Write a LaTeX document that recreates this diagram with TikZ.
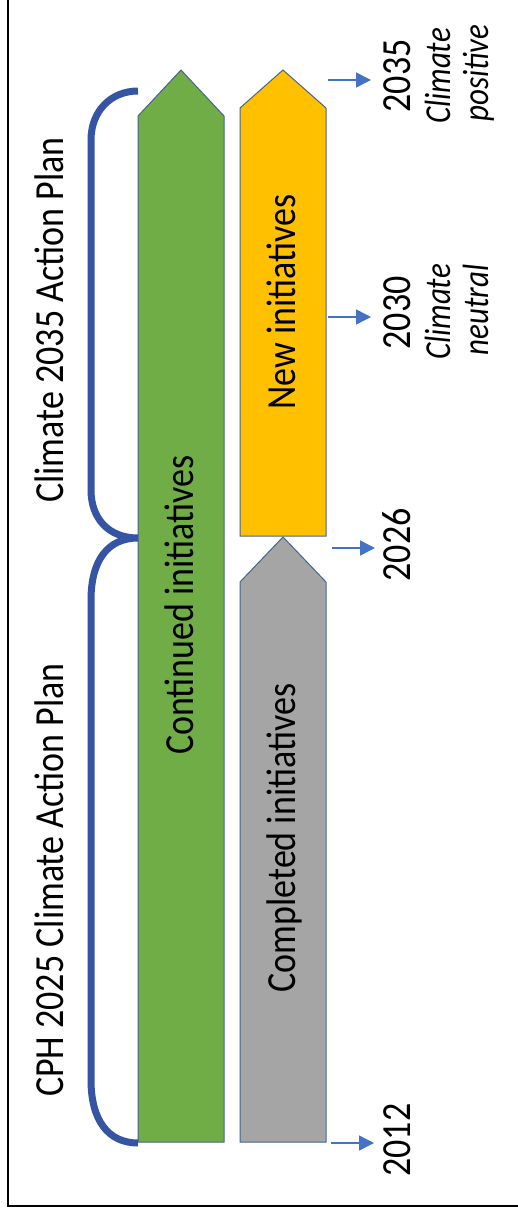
\documentclass[tikz,border=0pt]{standalone}
\usepackage{fontspec}
\setmainfont{Carlito}
\usetikzlibrary{arrows.meta}
\definecolor{bracecol}{RGB}{54,84,164}
\definecolor{tickcol}{RGB}{68,114,196}
\definecolor{outl}{RGB}{72,100,140}
\definecolor{greenf}{RGB}{112,173,71}
\definecolor{yellowf}{RGB}{255,192,0}
\definecolor{grayf}{RGB}{165,165,165}
\newcommand{\tallbig}[1]{\scalebox{1}[1.15]{#1}}
\newcommand{\tallsmall}[1]{\scalebox{1}[1.18]{#1}}
\tikzset{
  bigarrow/.style={draw=outl, line width=1pt, line join=miter},
  bracestyle/.style={draw=bracecol, line width=7pt},
  tickarrow/.style={draw=tickcol, line width=1.5pt, -{Triangle[length=15pt,width=15pt]}},
  bigtext/.style={rotate=90, anchor=base, inner sep=0pt, font=\fontsize{36}{40}\selectfont},
  smalltext/.style={rotate=90, anchor=base, inner sep=0pt, font=\fontsize{31}{36}\selectfont\itshape},
}
\begin{document}
\begin{tikzpicture}[x=1pt,y=-1pt]
\useasboundingbox (0,0) rectangle (517,1215);
% frame
\draw[line width=1.6pt] (8,-10) -- (8,1206) -- (530,1206);
% big arrows
\path[bigarrow, fill=greenf] (138,1142) -- (138,116) -- (181,70) -- (224,116) -- (224,1142) -- cycle;
\path[bigarrow, fill=yellowf] (240,536) -- (240,108) -- (283,70) -- (326,108) -- (326,536) -- cycle;
\path[bigarrow, fill=grayf] (240,1142) -- (240,582) -- (283,537) -- (326,582) -- (326,1142) -- cycle;
% brace
\path[bracestyle] (138,91) .. controls (111,91) and (91,111) .. (91,140) -- (91,490)
  .. controls (91,518) and (108,538) .. (138,538)
  .. controls (108,538) and (91,560) .. (91,600) -- (91,1080)
  .. controls (91,1120) and (108,1143) .. (138,1143);
% labels
\node[bigtext] (cph) at (63,880) {\tallbig{CPH 2025 Climate Action Plan}};
\node[bigtext] (c35) at (63,320) {\tallbig{Climate 2035 Action Plan}};
\node[bigtext] (cont) at (193,605) {\tallbig{Continued initiatives}};
\node[bigtext] (comp) at (295,838) {\tallbig{Completed initiatives}};
\node[bigtext] (new) at (295,302) {\tallbig{New initiatives}};
% years
\node[bigtext] (y35) at (410,76) {\tallbig{2035}};
\node[smalltext] (cp1) at (450,76) {\tallsmall{Climate}};
\node[smalltext] (cp2) at (488,73) {\tallsmall{positive}};
\node[bigtext] (y30) at (410,313) {\tallbig{2030}};
\node[smalltext] (cn1) at (450,312) {\tallsmall{Climate}};
\node[smalltext] (cn2) at (488,310) {\tallsmall{neutral}};
\node[bigtext] (y26) at (410,545) {\tallbig{2026}};
\node[bigtext] (y12) at (410,1140) {\tallbig{2012}};
% tick arrows
\coordinate (a35s) at (328,80); \coordinate (a35e) at (371,80);
\coordinate (a30s) at (328,317); \coordinate (a30e) at (371,317);
\coordinate (a26s) at (332,548); \coordinate (a26e) at (375,548);
\coordinate (a12s) at (331,1143); \coordinate (a12e) at (374,1143);
\draw[tickarrow] (a35s) -- (a35e);
\draw[tickarrow] (a30s) -- (a30e);
\draw[tickarrow] (a26s) -- (a26e);
\draw[tickarrow] (a12s) -- (a12e);
\end{tikzpicture}
\end{document}
